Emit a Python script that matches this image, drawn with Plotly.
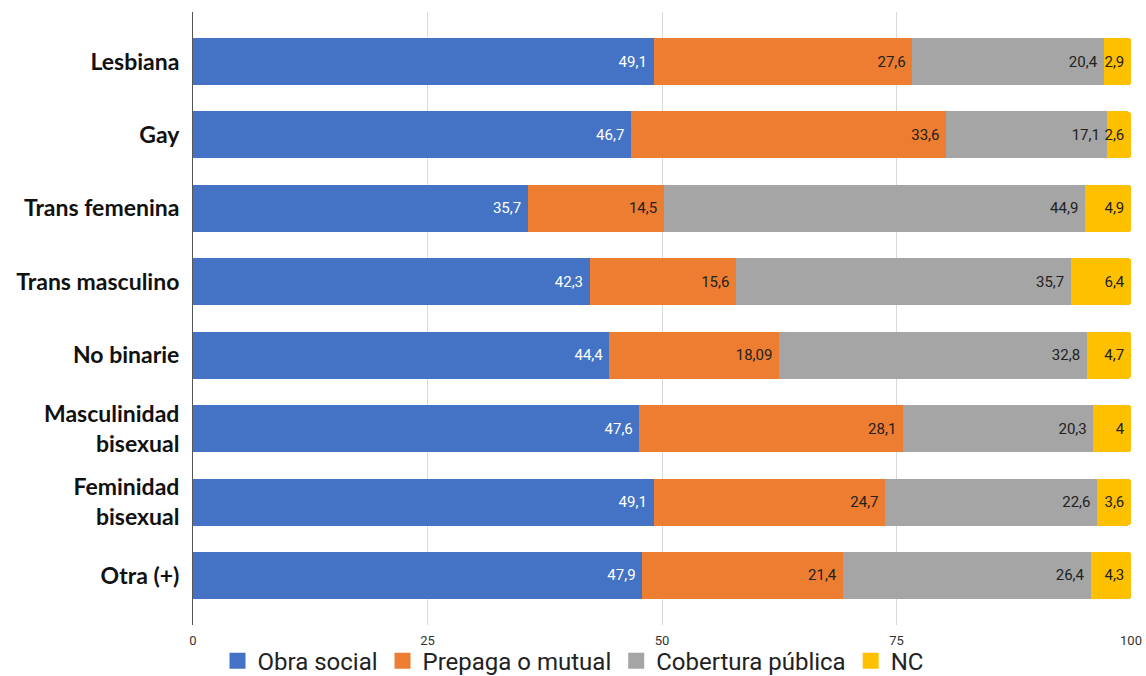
import plotly.graph_objects as go

categories = ["Lesbiana", "Gay", "Trans femenina", "Trans masculino", "No binarie",
              "Masculinidad<br>bisexual", "Feminidad<br>bisexual", "Otra (+)"]
series_names = ["Obra social", "Prepaga o mutual", "Cobertura pública", "NC"]
obra_social = [49.1, 46.7, 35.7, 42.3, 44.4, 47.6, 49.1, 47.9]
prepaga = [27.6, 33.6, 14.5, 15.6, 18.09, 28.1, 24.7, 21.4]
cobertura = [20.4, 17.1, 44.9, 35.7, 32.8, 20.3, 22.6, 26.4]
nc = [2.9, 2.6, 4.9, 6.4, 4.7, 4, 3.6, 4.3]
x_ticks = [0, 25, 50, 75, 100]

colors = ["#4472C4", "#ED7D31", "#A5A5A5", "#FFC000"]
text_colors = ["white", "#222222", "#222222", "#222222"]

def fmt(v):
    return f"{v:g}".replace(".", ",") + "\u00a0"

fig = go.Figure()
for name, vals, c, tc in zip(series_names, [obra_social, prepaga, cobertura, nc], colors, text_colors):
    fig.add_trace(go.Bar(
        y=categories, x=vals, name=name, orientation="h",
        marker=dict(color=c, line=dict(width=0)),
        text=[fmt(v) for v in vals], textposition="inside", insidetextanchor="end",
        textangle=0,
        textfont=dict(family="Roboto", size=15, color=tc),
        constraintext="none", cliponaxis=False, hoverinfo="skip",
        showlegend=False,
    ))
# legend entries with square swatches
for name, c in zip(series_names, colors):
    fig.add_trace(go.Scatter(
        x=[None], y=[None], mode="markers", name=name,
        marker=dict(symbol="square", size=20, color=c), showlegend=True, hoverinfo="skip",
    ))

fig.update_layout(
    width=1146, height=676,
    barmode="stack", bargap=0.36, barcornerradius=3,
    paper_bgcolor="white", plot_bgcolor="white",
    margin=dict(l=193, r=15, t=12, b=51, autoexpand=False),
    showlegend=True,
    legend=dict(orientation="h", xref="container", yref="paper", x=0.5, xanchor="center",
                y=-0.059, yanchor="middle", font=dict(family="Roboto", size=24, color="#222222"),
                bgcolor="rgba(0,0,0,0)",
                traceorder="normal", itemwidth=30, itemsizing="trace"),
)
fig.update_xaxes(range=[0, 100], tickvals=x_ticks, showgrid=True, gridcolor="#D9D9D9", gridwidth=1,
                 zeroline=False, showline=False, ticks="outside", ticklen=3, tickcolor="rgba(0,0,0,0)",
                 automargin=False,
                 tickfont=dict(family="Roboto", size=13, color="#333333"))
fig.update_yaxes(categoryorder="array", categoryarray=categories, autorange=False,
                 range=[7.675, -0.675], showline=True, linecolor="#555555", linewidth=1,
                 showgrid=False, ticks="outside", ticklen=8, tickcolor="rgba(0,0,0,0)",
                 automargin=False,
                 tickfont=dict(family="Lato", size=23, color="#111111", weight="bold"))

fig.write_html("out.html", config={"displayModeBar": False},
               post_script="document.body.style.margin='0';document.body.style.overflow='hidden';")
